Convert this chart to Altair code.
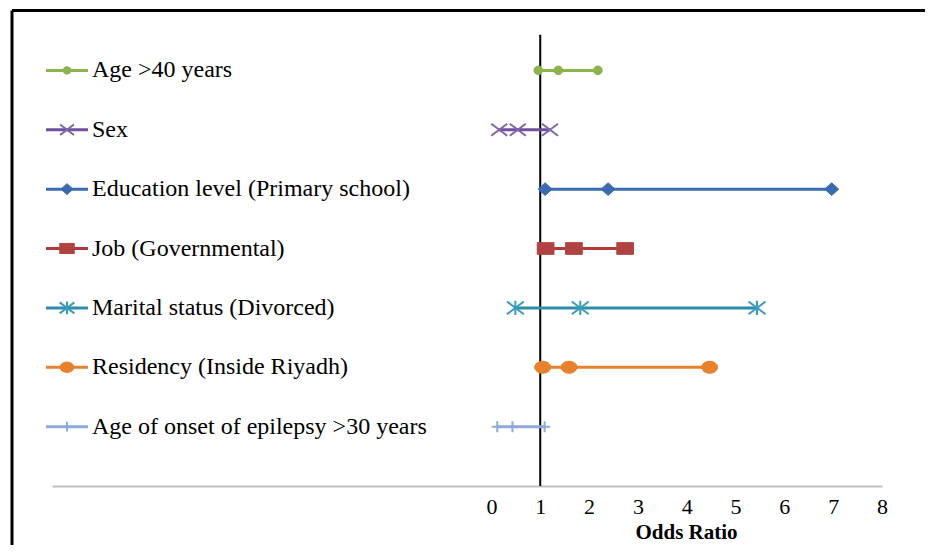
import altair as alt
import pandas as pd

# ---------------- data ----------------
names = [
    "Age >40 years",
    "Sex",
    "Education level (Primary school)",
    "Job (Governmental)",
    "Marital status (Divorced)",
    "Residency (Inside Riyadh)",
    "Age of onset of epilepsy >30 years",
]
lower = [0.96, 0.16, 1.10, 1.11, 0.49, 1.05, 0.12]
odds = [1.37, 0.54, 2.39, 1.69, 1.82, 1.59, 0.43]
upper = [2.18, 1.20, 6.97, 2.74, 5.44, 4.47, 1.09]
rows = [7, 6, 5, 4, 3, 2, 1]
x_ticks = [0, 1, 2, 3, 4, 5, 6, 7, 8]
ref_value = 1
ref_top = 7.6

# ---------------- styles ----------------
line_colors = ["#8DB24E", "#6F4F9E", "#3A6BB1", "#B03A3A", "#2C8DAA", "#E6822E", "#8DAADB"]
marker_colors = ["#8DB24E", "#7E64AA", "#3A6BB1", "#B04341", "#3A9CBA", "#E6822E", "#8DAADB"]
marker_shapes = [
    "circle",
    "M-1,-0.75L1,0.75M1,-0.75L-1,0.75",
    "M-1,0L0,-0.9L1,0L0,0.9Z",
    "M-1,-0.7L1,-0.7L1,0.7L-1,0.7Z",
    "M-1,-0.75L1,0.75M1,-0.75L-1,0.75M0,-0.85L0,0.85",
    "M-1,0A1,0.75 0 1,1 1,0A1,0.75 0 1,1 -1,0Z",
    "M-1,0L1,0M0,-1L0,1",
]
marker_sizes = [75, 256, 196, 280, 289, 256, 121]
marker_filled = [True, False, True, True, False, True, False]

FONT = "Liberation Serif"
x_scale = alt.Scale(domain=[-9, 8], nice=False, zero=False)
y_scale = alt.Scale(domain=[0, 8], nice=False, zero=False)
x_axis = alt.Axis(
    values=x_ticks,
    ticks=False,
    tickSize=0,
    grid=False,
    domainColor="#BFBFBF",
    domainWidth=2,
    labelFont=FONT,
    labelFontSize=22,
    labelColor="#000000",
    labelBaseline="middle",
    labelPadding=20,
    labelFlush=False,
    labelOverlap=False,
    title="Odds Ratio",
    titleFont=FONT,
    titleFontSize=21,
    titleFontWeight="bold",
    titleColor="#000000",
    titleX=634,
    titleY=46,
    titleAlign="center",
    titleBaseline="middle",
    titleAngle=0,
)
y_noaxis = alt.Y("row:Q", scale=y_scale, axis=None)

layers = []

# vertical reference line at OR = 1
ref_df = pd.DataFrame({"x": [ref_value], "y0": [0], "y1": [ref_top]})
layers.append(
    alt.Chart(ref_df)
    .mark_rule(color="#000000", strokeWidth=2)
    .encode(
        x=alt.X("x:Q", scale=x_scale, axis=x_axis),
        y=alt.Y("y0:Q", scale=y_scale, axis=None),
        y2="y1:Q",
    )
)

for i, name in enumerate(names):
    rng_df = pd.DataFrame({"lo": [lower[i]], "hi": [upper[i]], "row": [rows[i]], "name": [name]})
    pts_df = pd.DataFrame({"x": [lower[i], odds[i], upper[i]], "row": [rows[i]] * 3})

    # CI line
    layers.append(
        alt.Chart(rng_df)
        .mark_rule(color=line_colors[i], strokeWidth=3)
        .encode(x=alt.X("lo:Q", scale=x_scale, axis=x_axis), x2="hi:Q", y=y_noaxis)
    )
    # markers
    layers.append(
        alt.Chart(pts_df)
        .mark_point(
            shape=marker_shapes[i],
            size=marker_sizes[i],
            filled=marker_filled[i],
            fill=marker_colors[i] if marker_filled[i] else "transparent",
            stroke=marker_colors[i],
            strokeWidth=1 if marker_filled[i] else 2,
            opacity=1,
        )
        .encode(x=alt.X("x:Q", scale=x_scale, axis=x_axis), y=y_noaxis)
    )
    # legend entry: line, marker, label
    layers.append(
        alt.Chart(rng_df)
        .mark_rule(color=line_colors[i], strokeWidth=3)
        .encode(x=alt.value(-6), x2=alt.value(36), y=y_noaxis)
    )
    layers.append(
        alt.Chart(rng_df)
        .mark_point(
            shape=marker_shapes[i],
            size=marker_sizes[i] * 0.75,
            filled=marker_filled[i],
            fill=marker_colors[i] if marker_filled[i] else "transparent",
            stroke=marker_colors[i],
            strokeWidth=1 if marker_filled[i] else 2,
            opacity=1,
        )
        .encode(x=alt.value(15), y=y_noaxis)
    )
    layers.append(
        alt.Chart(rng_df)
        .mark_text(align="left", baseline="middle", font=FONT, fontSize=24, color="#000000")
        .encode(x=alt.value(40), y=y_noaxis, text="name:N")
    )

# frame lines (top and left edge of the picture)
frame_df = pd.DataFrame({"k": [0]})
layers.append(
    alt.Chart(frame_df)
    .mark_rule(color="#000000", strokeWidth=3)
    .encode(x=alt.value(-40), x2=alt.value(885), y=alt.value(-0.5))
)
layers.append(
    alt.Chart(frame_df)
    .mark_rule(color="#000000", strokeWidth=3)
    .encode(x=alt.value(-40), y=alt.value(-0.5), y2=alt.value(560))
)

chart = (
    alt.layer(*layers)
    .properties(
        width=830,
        height=475,
        autosize=alt.AutoSizeParams(type="none"),
        padding={"left": 44, "top": 3, "right": 43, "bottom": 59},
        background="#FFFFFF",
    )
    .configure_view(stroke=None)
)

chart.save("out.html", embed_options={"renderer": "svg", "actions": False})
